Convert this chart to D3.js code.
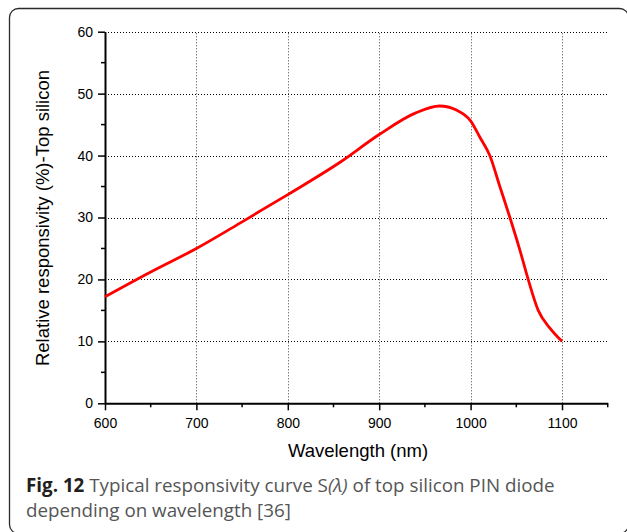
<!DOCTYPE html>
<html>
<head>
<meta charset="utf-8">
<script src="https://cdn.jsdelivr.net/npm/d3@7"></script>
<style>
  html, body { margin: 0; padding: 0; background: #fff; }
  svg { display: block; }
</style>
</head>
<body>
<svg id="chart" width="627" height="532"></svg>
<script>
// ---- data ----
const wavelength = [600, 650, 700, 750, 800, 858, 900, 940, 966, 985, 1000, 1010, 1021, 1032, 1043, 1054, 1063, 1074, 1087, 1100];
const responsivity = [17.2, 21.2, 25.0, 29.3, 33.7, 39.0, 43.4, 46.9, 48.0, 47.3, 45.6, 43.0, 40.0, 35.0, 30.0, 24.7, 20.0, 15.0, 12.1, 10.0];
const xTickValues = [600, 700, 800, 900, 1000, 1100];
const xMinorTicks = [650, 750, 850, 950, 1050, 1150];
const yTickValues = [0, 10, 20, 30, 40, 50, 60];
const yMinorTicks = [5, 15, 25, 35, 45, 55];
const xTitle = "Wavelength (nm)";
const yTitle = "Relative responsivity (%)-Top silicon";

const svg = d3.select("#chart");

// frame
svg.append("rect")
  .attr("x", 9.5).attr("y", 8.5)
  .attr("width", 619).attr("height", 525)
  .attr("rx", 9).attr("ry", 9)
  .attr("fill", "#fff").attr("stroke", "#2a2a2a").attr("stroke-width", 1.3);

const x = d3.scaleLinear().domain([600, 1150]).range([105, 607.7]);
const y = d3.scaleLinear().domain([0, 60]).range([403.3, 31.7]);

// grid
const grid = svg.append("g").attr("stroke", "#000").attr("stroke-width", 1)
  .attr("stroke-dasharray", "1,2").attr("fill", "none");
grid.selectAll("line.h").data(yTickValues.filter(v => v > 0)).join("line")
  .attr("x1", x(600)).attr("x2", x(1150))
  .attr("y1", d => Math.round(y(d)) + 0.5).attr("y2", d => Math.round(y(d)) + 0.5);
grid.selectAll("line.v").data(xTickValues.filter(v => v > 600)).join("line")
  .attr("y1", y(0)).attr("y2", y(60))
  .attr("x1", d => Math.round(x(d)) + 0.5).attr("x2", d => Math.round(x(d)) + 0.5)
  .attr("stroke", "#444");

// axes
const axisFont = "'Liberation Sans', Arial, sans-serif";
const xAxis = svg.append("g").attr("transform", `translate(0,${y(0)})`)
  .call(d3.axisBottom(x).tickValues(xTickValues).tickFormat(d3.format("d")).tickSize(7).tickPadding(8).tickSizeOuter(0));
const yAxis = svg.append("g").attr("transform", `translate(${x(600)},0)`)
  .call(d3.axisLeft(y).tickValues(yTickValues).tickFormat(d3.format("d")).tickSize(7).tickPadding(5).tickSizeOuter(0));
[xAxis, yAxis].forEach(g => {
  g.attr("font-family", null).attr("font-size", null);
  g.select(".domain").attr("stroke", "#000").attr("stroke-width", 2);
  g.selectAll(".tick line").attr("stroke", "#000").attr("stroke-width", 1.5);
  g.selectAll(".tick text").style("font-family", axisFont).style("font-size", "14px").attr("fill", "#000");
});
xAxis.selectAll("line.minor").data(xMinorTicks).join("line").attr("class", "minor")
  .attr("x1", d => x(d)).attr("x2", d => x(d)).attr("y1", 0).attr("y2", 4)
  .attr("stroke", "#000").attr("stroke-width", 1.5);
yAxis.selectAll("line.minor").data(yMinorTicks).join("line").attr("class", "minor")
  .attr("y1", d => y(d)).attr("y2", d => y(d)).attr("x1", 0).attr("x2", -4)
  .attr("stroke", "#000").attr("stroke-width", 1.5);

// curve
const line = d3.line().x((d, i) => x(wavelength[i])).y(d => y(d)).curve(d3.curveMonotoneX);
svg.append("path").datum(responsivity)
  .attr("d", line).attr("fill", "none").attr("stroke", "#ff0000").attr("stroke-width", 2.8)
  .attr("stroke-linejoin", "round");

// titles
svg.append("text").attr("x", 358).attr("y", 456.5).attr("text-anchor", "middle")
  .style("font-family", axisFont).style("font-size", "18.5px").attr("fill", "#000").text(xTitle);
svg.append("text").attr("transform", "translate(49.3,218) rotate(-90)").attr("text-anchor", "middle")
  .style("font-family", axisFont).style("font-size", "18.5px").attr("fill", "#000").text(yTitle);

// caption
const capFont = "'Open Sans', 'Noto Sans', sans-serif";
const cap1 = svg.append("text").attr("x", 26).attr("y", 492).style("font-family", capFont).style("font-size", "18.8px").attr("fill", "#555");
cap1.append("tspan").attr("font-weight", "bold").attr("fill", "#231f20").text("Fig. 12");
cap1.append("tspan").text(" Typical responsivity curve S");
cap1.append("tspan").attr("font-style", "italic").text("(λ)");
cap1.append("tspan").text(" of top silicon PIN diode");
svg.append("text").attr("x", 26).attr("y", 517).style("font-family", capFont).style("font-size", "18.8px").attr("fill", "#555")
  .text("depending on wavelength [36]");
</script>
</body>
</html>
